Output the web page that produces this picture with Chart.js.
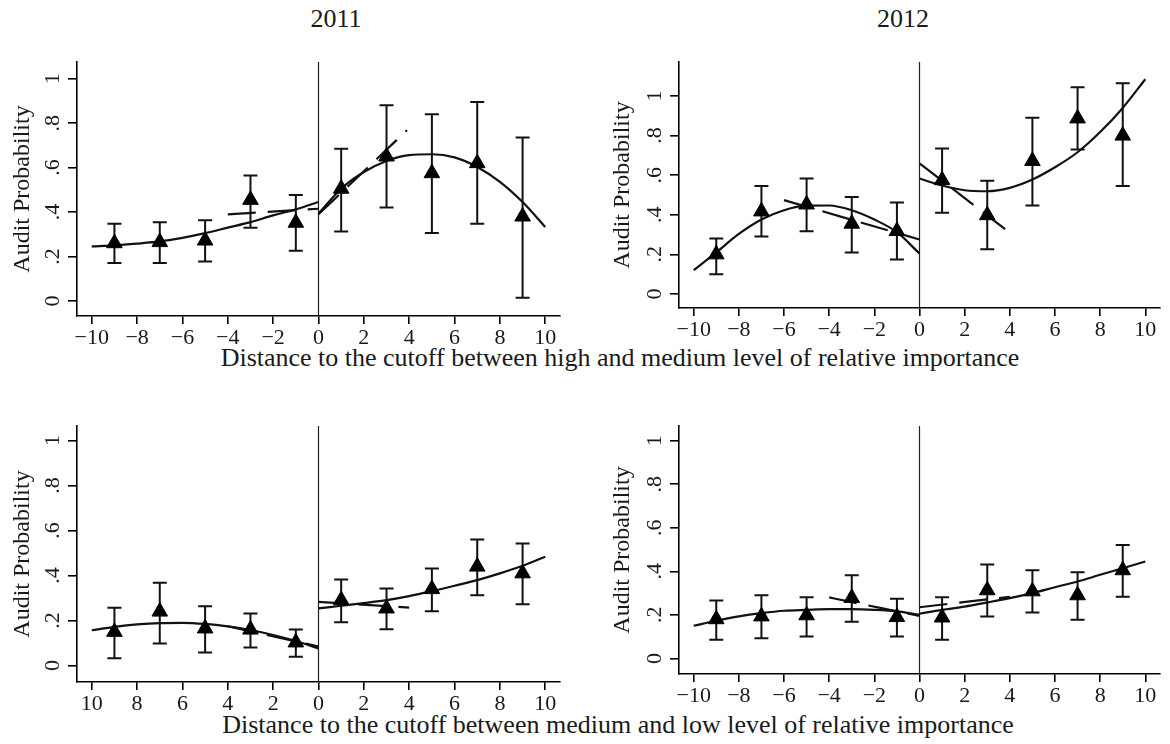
<!DOCTYPE html>
<html>
<head>
<meta charset="utf-8">
<script src="https://cdn.jsdelivr.net/npm/chart.js@4.4.0/dist/chart.umd.min.js"></script>
<style>
  html, body { margin: 0; padding: 0; background: #fff; }
  body { width: 1170px; height: 744px; position: relative; overflow: hidden;
         font-family: 'Liberation Serif', 'Times New Roman', serif; color: #1a1a1a; }
  canvas { position: absolute; }
  .label { position: absolute; white-space: nowrap; font-size: 26px; line-height: 26px;
           transform: translateX(-50%); }
</style>
</head>
<body>
<div class="label" id="year2011" style="left:336px; top:6px"></div>
<div class="label" id="year2012" style="left:903px; top:6px"></div>
<div class="label" id="xtitleTop" style="left:620px; top:345px"></div>
<div class="label" id="xtitleBottom" style="left:618px; top:712px"></div>
<canvas id="p1" width="575" height="320" style="left:0px; top:30px"></canvas>
<canvas id="p2" width="582" height="320" style="left:588px; top:30px"></canvas>
<canvas id="p3" width="575" height="320" style="left:0px; top:395px"></canvas>
<canvas id="p4" width="582" height="320" style="left:588px; top:395px"></canvas>
<script>
// ---- text ----
const yearLabels = ['2011', '2012'];
const xAxisTitles = [
  'Distance to the cutoff between high and medium level of relative importance',
  'Distance to the cutoff between medium and low level of relative importance'
];
const yAxisTitle = 'Audit Probability';

// ---- ticks ----
const xTickValues = [-10, -8, -6, -4, -2, 0, 2, 4, 6, 8, 10];
const xTickLabelsSigned = ['\u221210', '\u22128', '\u22126', '\u22124', '\u22122', '0', '2', '4', '6', '8', '10'];
const xTickLabelsAbs = ['10', '8', '6', '4', '2', '0', '2', '4', '6', '8', '10'];
const yTickValues = [0, 0.2, 0.4, 0.6, 0.8, 1];
const yTickLabels = ['0', '.2', '.4', '.6', '.8', '1'];
const cutoff = 0;

// ---- bins and fit grids ----
const binCenters = [-9, -7, -5, -3, -1, 1, 3, 5, 7, 9];
const fitXLeft = [-10, -9, -8, -7, -6, -5, -4, -3, -2, -1, 0];
const fitXRight = [0, 1, 2, 3, 4, 5, 6, 7, 8, 9, 10];

// ---- 2011, high vs medium ----
const hm2011Mean  = [0.26, 0.265, 0.272, 0.455, 0.352, 0.505, 0.65, 0.575, 0.62, 0.38];
const hm2011Upper = [0.348, 0.354, 0.363, 0.565, 0.477, 0.685, 0.88, 0.84, 0.895, 0.735];
const hm2011Lower = [0.171, 0.171, 0.178, 0.33, 0.226, 0.313, 0.42, 0.306, 0.348, 0.015];
const hm2011QuadLeft  = [0.246, 0.25, 0.258, 0.268, 0.284, 0.305, 0.33, 0.355, 0.385, 0.412, 0.445];
const hm2011QuadRight = [0.393, 0.505, 0.58, 0.63, 0.656, 0.66, 0.646, 0.603, 0.536, 0.445, 0.333];
const hm2011LinLeftX = [-4, 0],  hm2011LinLeft  = [0.39, 0.415];
const hm2011LinRightX = [0, 3.9], hm2011LinRight = [0.39, 0.768];

// ---- 2012, high vs medium ----
const hm2012Mean  = [0.20, 0.417, 0.452, 0.355, 0.318, 0.575, 0.398, 0.672, 0.887, 0.80];
const hm2012Upper = [0.28, 0.545, 0.583, 0.49, 0.462, 0.735, 0.572, 0.89, 1.044, 1.064];
const hm2012Lower = [0.10, 0.29, 0.317, 0.21, 0.174, 0.41, 0.226, 0.447, 0.73, 0.545];
const hm2012QuadLeft  = [0.12, 0.21, 0.303, 0.376, 0.423, 0.446, 0.447, 0.423, 0.376, 0.312, 0.204];
const hm2012QuadRight = [0.583, 0.548, 0.524, 0.519, 0.536, 0.578, 0.64, 0.716, 0.818, 0.94, 1.085];
const hm2012LinLeftX = [-6, 0], hm2012LinLeft  = [0.474, 0.275];
const hm2012LinRightX = [0, 4], hm2012LinRight = [0.66, 0.309];

// ---- 2011, medium vs low ----
const ml2011Mean  = [0.15, 0.24, 0.165, 0.16, 0.103, 0.291, 0.254, 0.34, 0.44, 0.41];
const ml2011Upper = [0.257, 0.368, 0.264, 0.231, 0.16, 0.383, 0.343, 0.432, 0.561, 0.543];
const ml2011Lower = [0.033, 0.098, 0.058, 0.08, 0.039, 0.193, 0.162, 0.242, 0.313, 0.273];
const ml2011QuadLeft  = [0.157, 0.172, 0.183, 0.189, 0.19, 0.185, 0.174, 0.158, 0.136, 0.109, 0.076];
const ml2011QuadRight = [0.254, 0.266, 0.278, 0.291, 0.309, 0.331, 0.355, 0.38, 0.41, 0.444, 0.484];
const ml2011LinLeftX = [-4, 0], ml2011LinLeft  = [0.175, 0.085];
const ml2011LinRightX = [0, 4], ml2011LinRight = [0.283, 0.258];

// ---- 2012, medium vs low ----
const ml2012Mean  = [0.18, 0.193, 0.198, 0.278, 0.19, 0.188, 0.313, 0.308, 0.29, 0.405];
const ml2012Upper = [0.266, 0.29, 0.281, 0.382, 0.274, 0.281, 0.431, 0.405, 0.396, 0.521];
const ml2012Lower = [0.086, 0.093, 0.101, 0.168, 0.101, 0.086, 0.193, 0.211, 0.177, 0.283];
const ml2012QuadLeft  = [0.15, 0.173, 0.193, 0.208, 0.219, 0.223, 0.226, 0.226, 0.223, 0.216, 0.2];
const ml2012QuadRight = [0.205, 0.223, 0.238, 0.257, 0.277, 0.3, 0.327, 0.353, 0.384, 0.414, 0.445];
const ml2012LinLeftX = [-4, 0], ml2012LinLeft  = [0.28, 0.195];
const ml2012LinRightX = [0, 4], ml2012LinRight = [0.235, 0.283];

document.getElementById('year2011').textContent = yearLabels[0];
document.getElementById('year2012').textContent = yearLabels[1];
document.getElementById('xtitleTop').textContent = xAxisTitles[0];
document.getElementById('xtitleBottom').textContent = xAxisTitles[1];

// ---- drawing ----
const INK = '#111';
const TEXT = '#1a1a1a';
const FONT_FAMILY = "'Liberation Serif', 'Times New Roman', serif";
Chart.defaults.font.family = FONT_FAMILY;
Chart.defaults.color = TEXT;

const pts = (xs, ys) => xs.map((x, i) => ({ x, y: ys[i] }));

// cutoff line, confidence-interval caps and rotated y tick labels
const panelDecor = {
  id: 'panelDecor',
  beforeDatasetsDraw(chart) {
    const { ctx, chartArea, scales: { x, y } } = chart;
    ctx.save();
    const cx = x.getPixelForValue(cutoff);
    ctx.strokeStyle = '#222';
    ctx.lineWidth = 1.2;
    ctx.beginPath();
    ctx.moveTo(cx, chartArea.top);
    ctx.lineTo(cx, chartArea.bottom);
    ctx.stroke();

    const ds = chart.data.datasets[0];
    const capHalf = 7;
    ctx.strokeStyle = INK;
    ctx.lineWidth = 2;
    ds.data.forEach((p, i) => {
      const px = x.getPixelForValue(p.x);
      const yt = y.getPixelForValue(ds.upper[i]);
      const yb = y.getPixelForValue(ds.lower[i]);
      ctx.beginPath();
      ctx.moveTo(px, yt); ctx.lineTo(px, yb);
      ctx.moveTo(px - capHalf, yt); ctx.lineTo(px + capHalf, yt);
      ctx.moveTo(px - capHalf, yb); ctx.lineTo(px + capHalf, yb);
      ctx.stroke();
    });
    ctx.restore();
  },
  afterDraw(chart) {
    const { ctx, chartArea, scales: { y } } = chart;
    const cx = chartArea.left - 25;
    ctx.save();
    ctx.fillStyle = TEXT;
    ctx.font = '22px ' + FONT_FAMILY;
    ctx.textAlign = 'center';
    ctx.textBaseline = 'middle';
    yTickValues.forEach((v, i) => {
      ctx.save();
      ctx.translate(cx, y.getPixelForValue(v));
      ctx.rotate(-Math.PI / 2);
      ctx.fillText(yTickLabels[i], 0, 1);
      ctx.restore();
    });
    ctx.restore();
  }
};

function lineSet(data, dashed) {
  return {
    data, showLine: true, pointRadius: 0, borderColor: INK, borderWidth: 2.2,
    borderDash: dashed ? [28, 12] : [], cubicInterpolationMode: 'monotone', fill: false
  };
}

function makePanel(p) {
  const c = p.canvas, a = p.area;
  const el = document.getElementById(p.id);
  new Chart(el, {
    type: 'scatter',
    data: {
      datasets: [
        { data: pts(binCenters, p.mean), upper: p.upper, lower: p.lower,
          pointStyle: 'triangle', pointRadius: 9, pointBackgroundColor: '#000',
          pointBorderColor: '#000', pointBorderWidth: 1, showLine: false },
        lineSet(pts(fitXLeft, p.quadL), false),
        lineSet(pts(fitXRight, p.quadR), false),
        lineSet(pts(p.linLX, p.linL), true),
        lineSet(pts(p.linRX, p.linR), true)
      ]
    },
    options: {
      responsive: false, animation: false, events: [],
      layout: { padding: { left: 0, top: a.top - c.top, right: c.left + c.width - a.right, bottom: 0 } },
      plugins: { legend: { display: false }, tooltip: { enabled: false } },
      scales: {
        x: {
          type: 'linear', min: -10.65, max: 10.65,
          afterBuildTicks: s => { s.ticks = xTickValues.map(v => ({ value: v })); },
          afterFit: s => { s.height = c.top + c.height - a.bottom; },
          ticks: { callback: (v, i) => p.xLabels[i], autoSkip: false, maxRotation: 0, minRotation: 0,
                   padding: 3, color: TEXT, font: { size: 22, lineHeight: 1 } },
          grid: { display: true, drawOnChartArea: false, drawTicks: true, tickLength: 8, color: '#000', lineWidth: 1.6 },
          border: { display: true, color: '#000', width: 1.6 }
        },
        y: {
          type: 'linear', min: p.yMin, max: p.yMax,
          afterBuildTicks: s => { s.ticks = yTickValues.map(v => ({ value: v })); },
          afterFit: s => { s.width = a.left - c.left; },
          ticks: { display: false, autoSkip: false },
          title: { display: true, text: yAxisTitle, color: TEXT, font: { size: 24, lineHeight: 1 },
                   padding: { top: p.titlePad, bottom: 0 } },
          grid: { display: true, drawOnChartArea: false, drawTicks: true, tickLength: 9, color: '#000', lineWidth: 1.6 },
          border: { display: true, color: '#000', width: 1.6 }
        }
      }
    },
    plugins: [panelDecor]
  });
}

const panels = [
  { id: 'p1', canvas: { left: 0, top: 30, width: 575, height: 320 }, area: { left: 77, right: 560, top: 62, bottom: 316 },
    yMin: -0.0675, yMax: 1.075, xLabels: xTickLabelsSigned, titlePad: 11,
    mean: hm2011Mean, upper: hm2011Upper, lower: hm2011Lower, quadL: hm2011QuadLeft, quadR: hm2011QuadRight,
    linLX: hm2011LinLeftX, linL: hm2011LinLeft, linRX: hm2011LinRightX, linR: hm2011LinRight },
  { id: 'p2', canvas: { left: 588, top: 30, width: 582, height: 320 }, area: { left: 679, right: 1163, top: 62, bottom: 308 },
    yMin: -0.071, yMax: 1.172, xLabels: xTickLabelsSigned, titlePad: 23,
    mean: hm2012Mean, upper: hm2012Upper, lower: hm2012Lower, quadL: hm2012QuadLeft, quadR: hm2012QuadRight,
    linLX: hm2012LinLeftX, linL: hm2012LinLeft, linRX: hm2012LinRightX, linR: hm2012LinRight },
  { id: 'p3', canvas: { left: 0, top: 395, width: 575, height: 320 }, area: { left: 77, right: 560, top: 426, bottom: 682 },
    yMin: -0.073, yMax: 1.065, xLabels: xTickLabelsAbs, titlePad: 11,
    mean: ml2011Mean, upper: ml2011Upper, lower: ml2011Lower, quadL: ml2011QuadLeft, quadR: ml2011QuadRight,
    linLX: ml2011LinLeftX, linL: ml2011LinLeft, linRX: ml2011LinRightX, linR: ml2011LinRight },
  { id: 'p4', canvas: { left: 588, top: 395, width: 582, height: 320 }, area: { left: 679, right: 1163, top: 426, bottom: 674 },
    yMin: -0.0716, yMax: 1.0674, xLabels: xTickLabelsSigned, titlePad: 23,
    mean: ml2012Mean, upper: ml2012Upper, lower: ml2012Lower, quadL: ml2012QuadLeft, quadR: ml2012QuadRight,
    linLX: ml2012LinLeftX, linL: ml2012LinLeft, linRX: ml2012LinRightX, linR: ml2012LinRight }
];

panels.forEach(makePanel);
</script>
</body>
</html>
